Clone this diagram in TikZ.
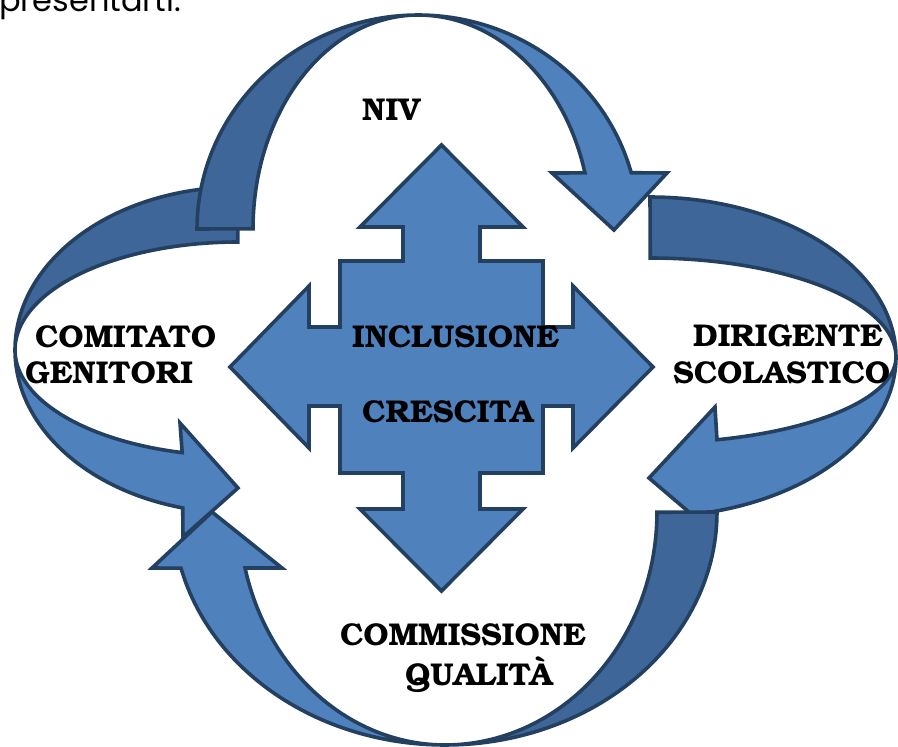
\documentclass[tikz,border=0pt]{standalone}
\usepackage{fontspec}
\setmainfont{TeX Gyre Bonum}
\newfontfamily\topfont{Poppins}
\definecolor{lightb}{RGB}{79,129,189}
\definecolor{darkb}{RGB}{63,102,152}
\definecolor{edgeb}{RGB}{36,64,97}
\begin{document}
\begin{tikzpicture}[x=1pt,y=-1pt,
  band/.style={draw=edgeb, line width=3.6pt, line join=miter, miter limit=10},
  front/.style={band, fill=lightb},
  back/.style={band, fill=darkb},
  lbl/.style={anchor=base west, inner sep=0pt, text=black, font=\fontsize{31.5}{37}\selectfont\bfseries},
  arc/.style={domain=0:1, samples=60, variable=\u}
]
\useasboundingbox (0,0) rectangle (898,747);

% cropped text at the top edge
\node[anchor=base west, inner sep=0pt, font=\topfont\fontsize{32}{38}\selectfont] (toptext) at (-1,11) {presentarti.};

% ---------- left arrow (COMITATO GENITORI) ----------
\draw[back] plot[arc] ({238+223*cos(270-90*\u)},{350+163*sin(270-90*\u)})
  -- plot[arc] ({238+223*cos(180+90*\u)},{350+108*sin(180+90*\u)}) -- cycle;
\draw[front] plot[arc] ({238+223*cos(180-75.7*\u)},{350+163*sin(180-75.7*\u)})
  -- (183,537) -- (238,488) -- (180,423)
  -- plot[arc] ({238+223*cos(104.5+75.5*\u)},{350+106*sin(104.5+75.5*\u)}) -- cycle;

% ---------- right arrow (DIRIGENTE SCOLASTICO) ----------
\draw[back] plot[arc] ({650+246*cos(270+90*\u)},{357+160*sin(270+90*\u)})
  -- plot[arc] ({650+246*cos(360-90*\u)},{357+99*sin(360-90*\u)}) -- cycle;
\draw[front] plot[arc] ({650+246*cos(75*\u)},{357+160*sin(75*\u)})
  -- (710,530) -- (649,478) -- (715,407)
  -- plot[arc] ({650+246*cos(74.2-74.2*\u)},{357+86*sin(74.2-74.2*\u)}) -- cycle;

% ---------- top arrow (NIV) ----------
\draw[back] plot[arc] ({418+221*cos(180+90*\u)},{229+214*sin(180+90*\u)})
  -- plot[arc] ({418+165*cos(270-90*\u)},{229+214*sin(270-90*\u)}) -- cycle;
\draw[front] plot[arc] ({418+221*cos(270+74.8*\u)},{229+214*sin(270+74.8*\u)})
  -- (667,173) -- (614,230) -- (552,173)
  -- plot[arc] ({418+173*cos(344.8-74.8*\u)},{229+214*sin(344.8-74.8*\u)}) -- cycle;

% ---------- bottom arrow (COMMISSIONE QUALITA) ----------
\draw[back] plot[arc] ({445+272*cos(90*\u)},{512+233*sin(90*\u)})
  -- plot[arc] ({445+212*cos(90-90*\u)},{512+233*sin(90-90*\u)}) -- cycle;
\draw[front] plot[arc] ({445+272*cos(90+76.1*\u)},{512+233*sin(90+76.1*\u)})
  -- (152,568) -- (212,512) -- (282,568)
  -- plot[arc] ({445+206*cos(166.1-76.1*\u)},{512+233*sin(166.1-76.1*\u)}) -- cycle;

% ---------- central four-way arrow ----------
\draw[front] (441.5,145) -- (523,227) -- (480,227) -- (480,261) -- (543,261)
  -- (543,327) -- (573,327) -- (573,286) -- (653,367) -- (573,448) -- (573,406)
  -- (543,406) -- (543,473) -- (480,473) -- (480,509) -- (523,509) -- (441.5,591)
  -- (360,509) -- (403,509) -- (403,473) -- (340,473) -- (340,406) -- (309,406)
  -- (309,448) -- (230,367) -- (309,286) -- (309,327) -- (340,327) -- (340,261)
  -- (403,261) -- (403,227) -- (360,227) -- cycle;

% ---------- labels ----------
\node[lbl] (niv) at (362,120) {NIV};
\node[lbl] (incl) at (352,347) {INCLUSIONE};
\node[lbl] (cresc) at (362,422) {CRESCITA};
\node[lbl] (comit) at (35,347) {COMITATO};
\node[lbl] (genit) at (25,383) {GENITORI};
\node[lbl] (dirig) at (693,346) {DIRIGENTE};
\node[lbl] (scol) at (673,383) {SCOLASTICO};
\node[lbl] (commi) at (340,645) {COMMISSIONE};
\node[lbl] (qual) at (405,685) {QUALITÀ};
\end{tikzpicture}
\end{document}
